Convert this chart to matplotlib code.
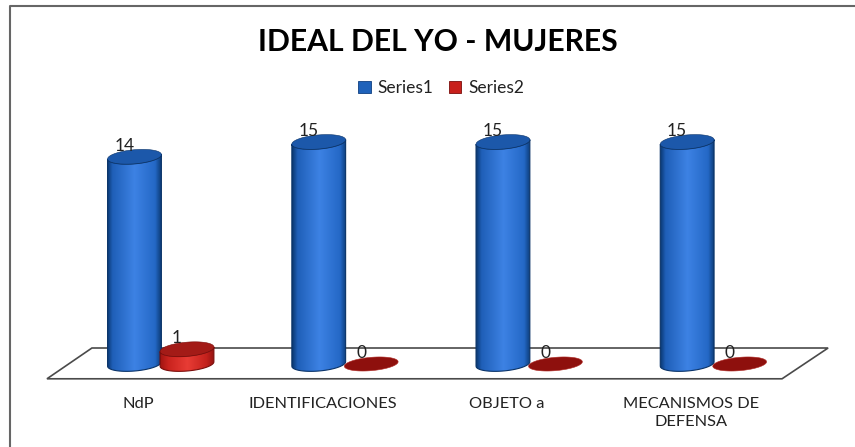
import numpy as np
import matplotlib
matplotlib.use('Agg')
import matplotlib.pyplot as plt
from matplotlib.colors import LinearSegmentedColormap
from matplotlib.lines import Line2D
from matplotlib.patches import Patch, Polygon, PathPatch
from matplotlib.path import Path

# datos
categorias = ['NdP', 'IDENTIFICACIONES', 'OBJETO a', 'MECANISMOS DE\nDEFENSA']
series1 = [14, 15, 15, 15]
series2 = [1, 0, 0, 0]
nombres = ['Series1', 'Series2']
titulo = 'IDEAL DEL YO - MUJERES'

plt.rcParams['font.family'] = ['Lato', 'DejaVu Sans']

fig = plt.figure(figsize=(8.55, 4.47), dpi=100)
ax = fig.add_axes([0, 0, 1, 1])
ax.set_xlim(-0.730, 3.911)
ax.set_ylim(-5.608, 24.59)
ax.axis('off')

# escala en pixeles de la figura
px_x = 1 / 184.2
px_y = 1 / 14.8

a = 27.0
b = 7.0
giro = np.radians(5)
sep = 52.5 * px_x

azul = LinearSegmentedColormap.from_list('azul', [(0, '#0a376f'), (0.1, '#1f5fb8'), (0.5, '#3d82e4'),
                                                  (0.88, '#2468c6'), (1, '#0a376f')])
rojo = LinearSegmentedColormap.from_list('rojo', [(0, '#a01512'), (0.15, '#c9231e'), (0.5, '#e83c35'),
                                                  (0.85, '#c4211c'), (1, '#8f1210')])
grad = np.linspace(0, 1, 128).reshape(1, -1)


def elipse(x, y, t, escala=1.0):
    # puntos de una elipse un poco inclinada, medida en pixeles
    dx = a * np.cos(t) * np.cos(giro) - b * escala * np.sin(t) * np.sin(giro)
    dy = a * np.cos(t) * np.sin(giro) + b * escala * np.sin(t) * np.cos(giro)
    return x + dx * px_x, y + dy * px_y


def cilindro(x, v, cmap, tapa, borde, z):
    vuelta = np.linspace(0, 2 * np.pi, 80)
    if v == 0:
        ax.fill(*elipse(x, 0, vuelta, 0.95), fc='#8e100d', ec='#b02a25', lw=0.4, zorder=z)
        return
    t = np.linspace(np.pi, 2 * np.pi, 40)
    xs, ys = elipse(x, 0, t)
    xt, yt = elipse(x, v, t[::-1])
    verts = list(zip(xs, ys)) + list(zip(xt, yt)) + [(xs[0], ys[0])]
    cuerpo = PathPatch(Path(verts), fc='none', ec=borde, lw=0.8, zorder=z + 0.1)
    ax.add_patch(cuerpo)
    im = ax.imshow(grad, cmap=cmap, extent=[x - a * px_x, x + a * px_x, -1.5, v + 1], aspect='auto', zorder=z)
    im.set_clip_path(cuerpo)
    ax.fill(*elipse(x, v, vuelta), fc=tapa, ec=borde, lw=0.4, zorder=z + 0.2)


# piso
piso = [(-0.475, -1.0), (-0.231, 1.08), (3.765, 1.08), (3.515, -1.0)]
ax.add_patch(Polygon(piso, closed=True, fc='white', ec='#4a4a4a', lw=1.2, zorder=1))

for i in range(len(categorias)):
    cilindro(i, series1[i], azul, '#1c58aa', '#0a3368', 3)
    cilindro(i + sep, series2[i], rojo, '#a31b17', '#7a0d0b', 4)
    ax.text(i - 10 * px_x, series1[i] + 0.75, str(series1[i]), ha='center', va='center', fontsize=12.5, color='#222222', zorder=6)
    ax.text(i + sep - 10 * px_x, series2[i] + 0.75, str(series2[i]), ha='center', va='center', fontsize=12.5, color='#222222', zorder=6)
    ax.text(i + 4 * px_x, -2.2, categorias[i], ha='center', va='top', fontsize=11.8, color='#222222', linespacing=1.4)

ax.text(0.512, 0.907, titulo, transform=ax.transAxes, ha='center', va='center', fontsize=21.7, fontweight='bold', color='black')

handles = [Patch(fc='#1f62ba', ec='#0f3f80', lw=0.6), Patch(fc='#c8201b', ec='#7a0d0b', lw=0.6)]
ax.legend(handles, nombres, loc='center', bbox_to_anchor=(0.516, 0.803), ncol=2, frameon=False,
          fontsize=12.5, handlelength=0.7, handleheight=0.7, handletextpad=0.4, columnspacing=0.9,
          labelcolor='#222222')

# solo hay borde arriba y a la izquierda
ax.add_line(Line2D([9.5 / 855, 9.5 / 855, 1], [0, 1 - 5.5 / 447, 1 - 5.5 / 447], transform=ax.transAxes,
                   color='#666666', lw=1.5, zorder=10))

fig.savefig('out.png', dpi=100)
